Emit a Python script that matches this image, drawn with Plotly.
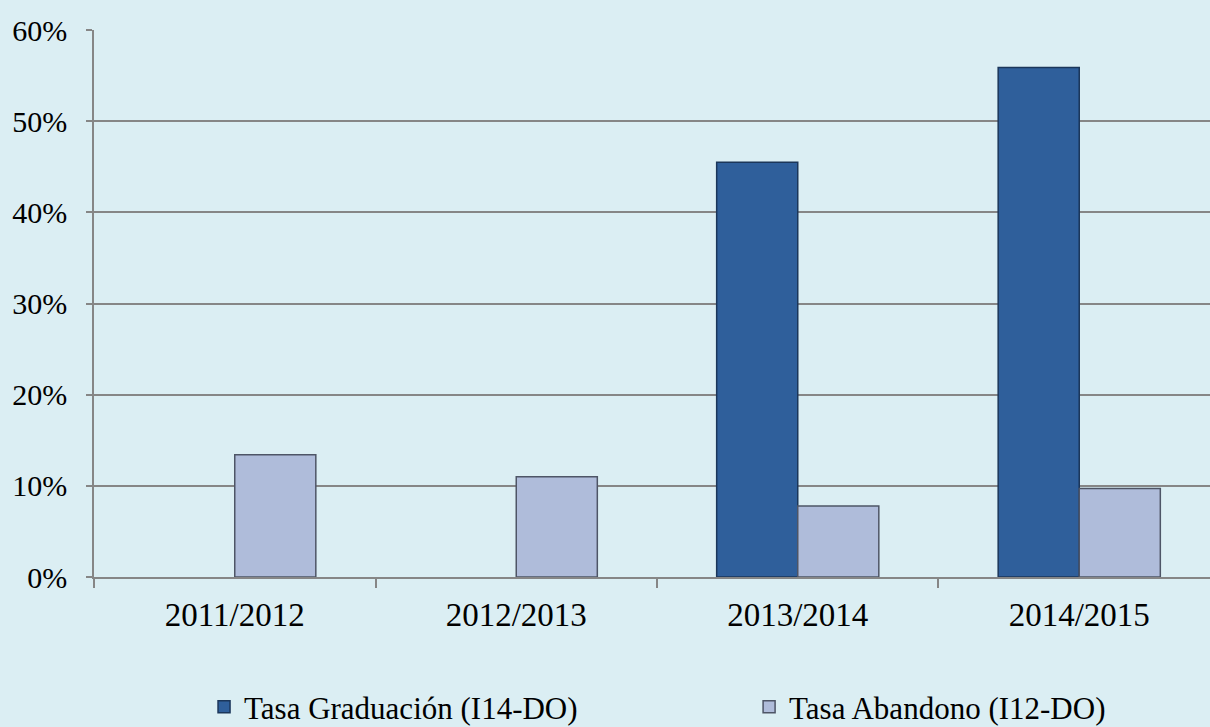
import plotly.graph_objects as go

categories = ["2011/2012", "2012/2013", "2013/2014", "2014/2015"]
graduacion = [None, None, 45.5, 55.9]
abandono = [13.4, 11.0, 7.8, 9.7]
y_ticks = [0, 10, 20, 30, 40, 50, 60]
y_tick_labels = ["0%", "10%", "20%", "30%", "40%", "50%", "60%"]

FONT = "Liberation Serif, Times New Roman, DejaVu Serif, serif"
BG = "#DBEEF3"

fig = go.Figure()
fig.add_trace(go.Bar(
    name="Tasa Graduación (I14-DO)", x=categories, y=graduacion,
    marker=dict(color="#2F5F9B", line=dict(color="#1B365A", width=1.5)),
    legend="legend",
))
fig.add_trace(go.Bar(
    name="Tasa Abandono (I12-DO)", x=categories, y=abandono,
    marker=dict(color="#AFBCDA", line=dict(color="#4E5566", width=1.5)),
    legend="legend2",
))

legend_common = dict(
    orientation="h", xanchor="left", yanchor="middle",
    font=dict(family=FONT, size=31, color="black"),
    bgcolor="rgba(0,0,0,0)", itemwidth=30,
)

fig.update_layout(
    width=1210, height=727,
    paper_bgcolor=BG, plot_bgcolor=BG,
    margin=dict(l=94, r=0, t=30, b=150, autoexpand=False),
    barmode="group", bargap=0.424, bargroupgap=0,
    font=dict(family=FONT, size=30, color="black"),
    showlegend=True,
    legend=dict(x=0.0986, y=-0.2377, **legend_common),
    legend2=dict(x=0.587, y=-0.2377, **legend_common),
)
fig.update_xaxes(
    range=[-0.5, 3.4645], showgrid=False, showline=True, linecolor="#868686",
    linewidth=1.5, ticks="outside", tickson="boundaries", ticklen=9,
    tickcolor="#868686", tickwidth=1.5, ticklabelstandoff=8,
    tickfont=dict(family=FONT, size=33), automargin=False,
)
fig.update_yaxes(
    range=[0, 60], tickvals=y_ticks, ticktext=y_tick_labels,
    showgrid=True, gridcolor="#868686", gridwidth=1.5,
    showline=True, linecolor="#868686", linewidth=1.5,
    ticks="outside", ticklen=6, tickcolor="#868686", tickwidth=1.5,
    ticklabelstandoff=13, zeroline=False, automargin=False,
    tickfont=dict(family=FONT, size=30),
)

fig.write_html(
    "out.html",
    config={"displayModeBar": False},
    post_script="document.body.style.margin='0';document.body.style.overflow='hidden';",
)
